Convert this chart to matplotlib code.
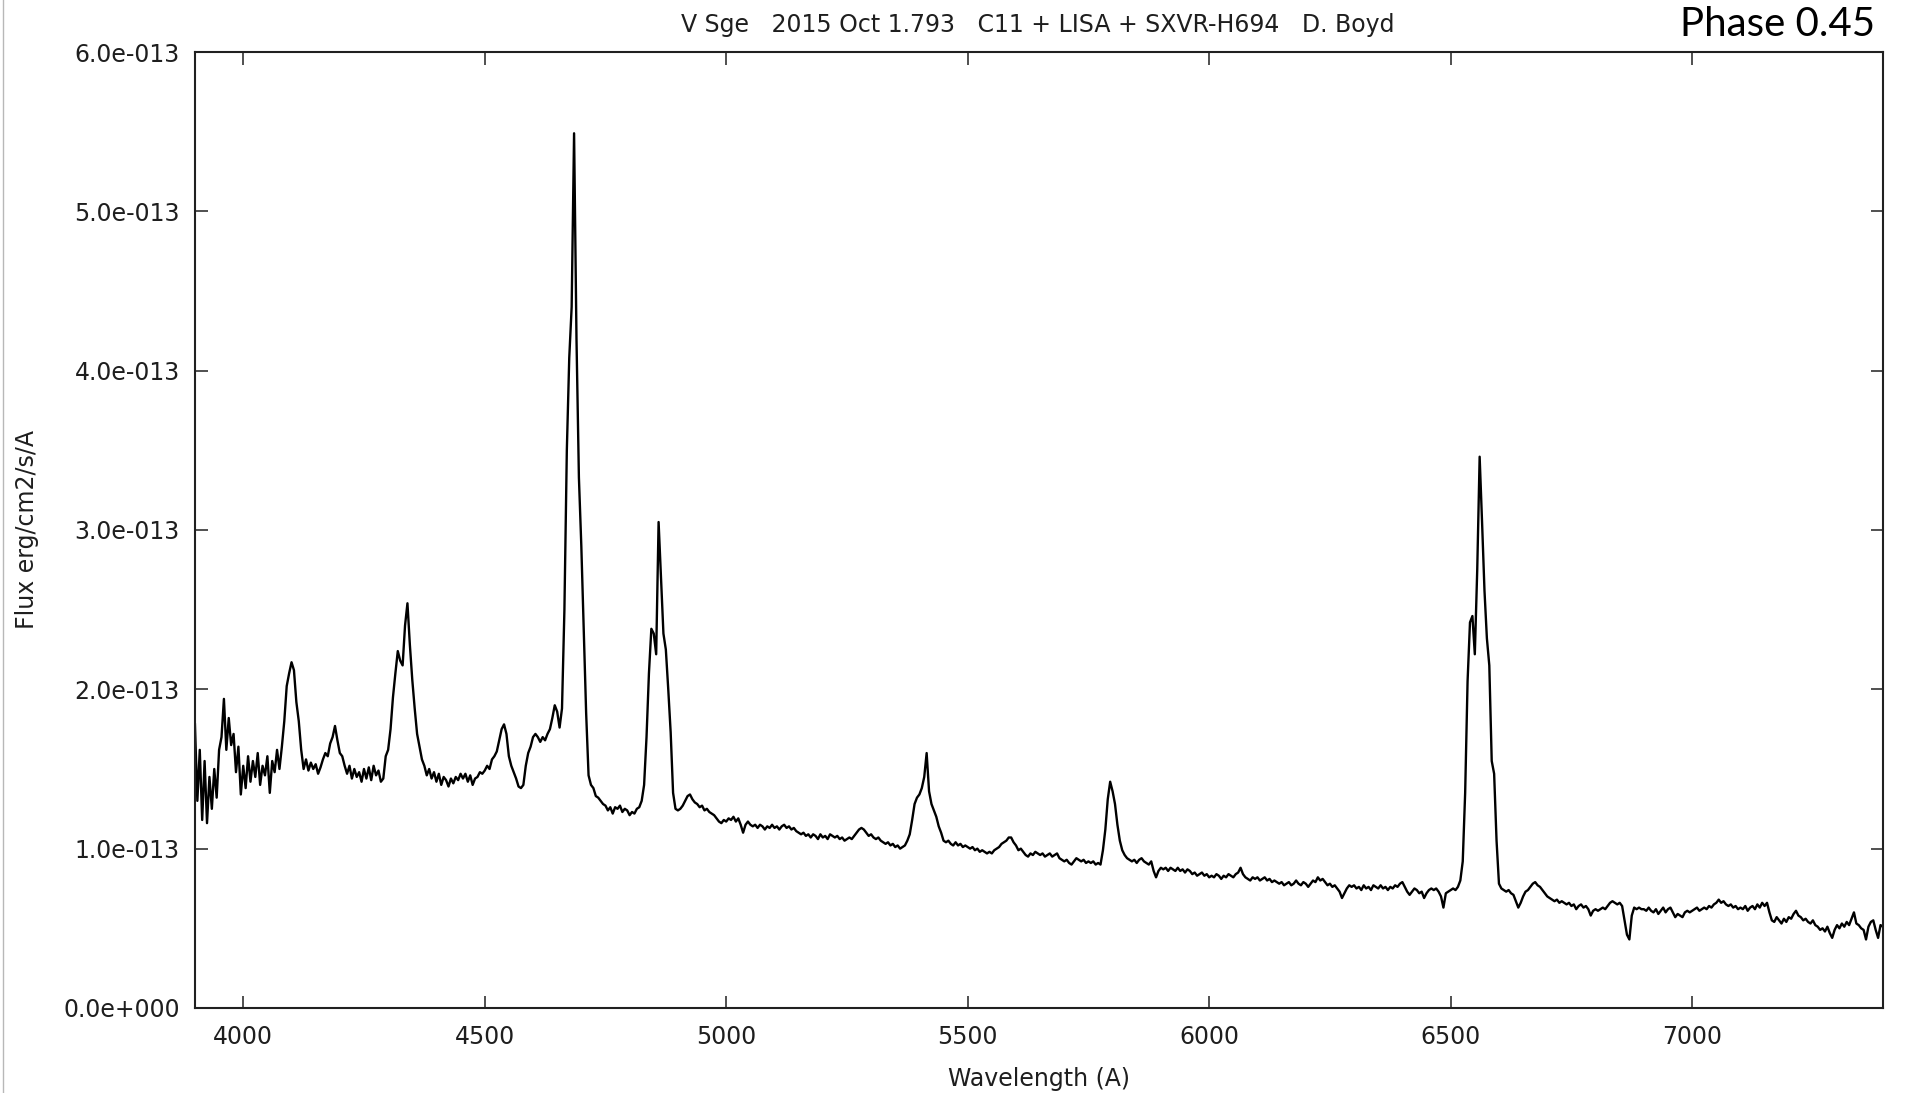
# V Sge spectrum, flux-calibrated, 2015 Oct 1.793

import matplotlib
matplotlib.use('Agg')
import matplotlib.pyplot as plt
from matplotlib.lines import Line2D
from matplotlib.ticker import FuncFormatter, MultipleLocator
import numpy as np

# wavelength sampling of the spectrum (Angstrom)
crval1 = 3900.0
cdelt1 = 5.0

# flux in units of 1e-13 erg/cm2/s/A, one row per 100 A
flux_rows = [
    # 3900
    [1.78, 1.30, 1.62, 1.18, 1.55, 1.16, 1.45, 1.25, 1.50, 1.32, 1.62, 1.70, 1.94, 1.62, 1.82, 1.65, 1.72, 1.48, 1.64, 1.34],
    # 4000
    [1.52, 1.38, 1.58, 1.42, 1.55, 1.45, 1.60, 1.40, 1.52, 1.46, 1.58, 1.35, 1.55, 1.48, 1.62, 1.50, 1.64, 1.80, 2.02, 2.10],
    # 4100
    [2.17, 2.12, 1.92, 1.80, 1.62, 1.50, 1.56, 1.49, 1.54, 1.50, 1.53, 1.47, 1.51, 1.56, 1.60, 1.58, 1.66, 1.70, 1.77, 1.68],
    # 4200
    [1.60, 1.58, 1.52, 1.47, 1.52, 1.44, 1.50, 1.45, 1.48, 1.42, 1.50, 1.44, 1.51, 1.43, 1.52, 1.46, 1.49, 1.42, 1.44, 1.58],
    # 4300
    [1.62, 1.75, 1.95, 2.10, 2.24, 2.18, 2.15, 2.40, 2.54, 2.28, 2.06, 1.88, 1.72, 1.64, 1.56, 1.52, 1.46, 1.50, 1.44, 1.48],
    # 4400
    [1.42, 1.47, 1.40, 1.45, 1.43, 1.39, 1.44, 1.41, 1.45, 1.43, 1.47, 1.44, 1.47, 1.42, 1.46, 1.40, 1.44, 1.45, 1.48, 1.47],
    # 4500
    [1.49, 1.52, 1.50, 1.56, 1.58, 1.61, 1.68, 1.75, 1.78, 1.72, 1.58, 1.52, 1.48, 1.44, 1.39, 1.38, 1.40, 1.52, 1.60, 1.64],
    # 4600
    [1.70, 1.72, 1.70, 1.67, 1.70, 1.68, 1.72, 1.75, 1.82, 1.90, 1.86, 1.76, 1.88, 2.50, 3.50, 4.08, 4.40, 5.49, 4.20, 3.33],
    # 4700
    [2.90, 2.37, 1.85, 1.46, 1.40, 1.38, 1.33, 1.32, 1.30, 1.28, 1.27, 1.24, 1.26, 1.22, 1.26, 1.25, 1.27, 1.23, 1.25, 1.24],
    # 4800
    [1.21, 1.23, 1.22, 1.25, 1.26, 1.30, 1.40, 1.70, 2.10, 2.38, 2.35, 2.22, 3.05, 2.70, 2.35, 2.25, 2.00, 1.73, 1.35, 1.25],
    # 4900
    [1.24, 1.25, 1.27, 1.30, 1.33, 1.34, 1.31, 1.29, 1.28, 1.26, 1.27, 1.24, 1.25, 1.23, 1.22, 1.21, 1.19, 1.17, 1.16, 1.18],
    # 5000
    [1.17, 1.19, 1.18, 1.20, 1.17, 1.19, 1.15, 1.10, 1.15, 1.17, 1.15, 1.14, 1.15, 1.13, 1.15, 1.14, 1.12, 1.14, 1.13, 1.15],
    # 5100
    [1.13, 1.14, 1.12, 1.14, 1.15, 1.13, 1.14, 1.12, 1.13, 1.11, 1.10, 1.09, 1.10, 1.08, 1.09, 1.07, 1.09, 1.08, 1.06, 1.09],
    # 5200
    [1.07, 1.08, 1.06, 1.09, 1.08, 1.07, 1.08, 1.06, 1.07, 1.05, 1.06, 1.07, 1.06, 1.08, 1.10, 1.12, 1.13, 1.12, 1.10, 1.08],
    # 5300
    [1.09, 1.07, 1.06, 1.07, 1.05, 1.04, 1.03, 1.04, 1.02, 1.03, 1.01, 1.02, 1.00, 1.01, 1.02, 1.05, 1.09, 1.18, 1.28, 1.32],
    # 5400
    [1.34, 1.38, 1.45, 1.60, 1.36, 1.28, 1.24, 1.20, 1.14, 1.10, 1.05, 1.04, 1.05, 1.03, 1.02, 1.04, 1.02, 1.03, 1.01, 1.02],
    # 5500
    [1.01, 1.00, 1.01, 0.99, 1.00, 0.98, 0.99, 0.98, 0.97, 0.98, 0.97, 0.99, 1.00, 1.01, 1.03, 1.04, 1.05, 1.07, 1.07, 1.04],
    # 5600
    [1.02, 0.99, 1.00, 0.98, 0.96, 0.95, 0.97, 0.96, 0.98, 0.97, 0.96, 0.97, 0.95, 0.96, 0.97, 0.95, 0.96, 0.97, 0.94, 0.93],
    # 5700
    [0.92, 0.93, 0.91, 0.90, 0.92, 0.94, 0.93, 0.92, 0.93, 0.91, 0.92, 0.91, 0.92, 0.90, 0.91, 0.90, 0.99, 1.12, 1.31, 1.42],
    # 5800
    [1.36, 1.28, 1.15, 1.05, 0.99, 0.96, 0.94, 0.93, 0.92, 0.93, 0.91, 0.93, 0.94, 0.92, 0.91, 0.90, 0.92, 0.86, 0.82, 0.86],
    # 5900
    [0.88, 0.87, 0.88, 0.86, 0.88, 0.87, 0.86, 0.88, 0.86, 0.87, 0.85, 0.87, 0.86, 0.84, 0.85, 0.83, 0.84, 0.85, 0.83, 0.84],
    # 6000
    [0.82, 0.83, 0.82, 0.84, 0.83, 0.81, 0.83, 0.82, 0.84, 0.83, 0.82, 0.84, 0.85, 0.88, 0.84, 0.82, 0.81, 0.80, 0.82, 0.81],
    # 6100
    [0.82, 0.80, 0.81, 0.82, 0.80, 0.81, 0.79, 0.80, 0.79, 0.78, 0.79, 0.77, 0.78, 0.79, 0.77, 0.78, 0.80, 0.78, 0.77, 0.79],
    # 6200
    [0.78, 0.76, 0.78, 0.80, 0.79, 0.82, 0.80, 0.81, 0.79, 0.77, 0.78, 0.76, 0.77, 0.75, 0.73, 0.69, 0.72, 0.75, 0.77, 0.76],
    # 6300
    [0.77, 0.75, 0.76, 0.74, 0.77, 0.75, 0.76, 0.74, 0.77, 0.76, 0.75, 0.77, 0.75, 0.76, 0.74, 0.76, 0.75, 0.77, 0.76, 0.78],
    # 6400
    [0.79, 0.76, 0.73, 0.71, 0.73, 0.75, 0.74, 0.72, 0.73, 0.69, 0.72, 0.74, 0.75, 0.74, 0.75, 0.73, 0.70, 0.63, 0.72, 0.73],
    # 6500
    [0.74, 0.75, 0.74, 0.76, 0.80, 0.92, 1.35, 2.05, 2.42, 2.46, 2.22, 2.75, 3.46, 3.05, 2.62, 2.32, 2.15, 1.55, 1.47, 1.05],
    # 6600
    [0.78, 0.75, 0.74, 0.73, 0.74, 0.72, 0.71, 0.67, 0.63, 0.66, 0.70, 0.73, 0.74, 0.76, 0.78, 0.79, 0.77, 0.76, 0.74, 0.72],
    # 6700
    [0.70, 0.69, 0.68, 0.67, 0.68, 0.66, 0.67, 0.66, 0.65, 0.66, 0.64, 0.65, 0.62, 0.64, 0.65, 0.63, 0.64, 0.62, 0.58, 0.61],
    # 6800
    [0.62, 0.61, 0.62, 0.63, 0.62, 0.64, 0.66, 0.67, 0.66, 0.65, 0.66, 0.64, 0.55, 0.46, 0.43, 0.58, 0.63, 0.62, 0.63, 0.62],
    # 6900
    [0.62, 0.61, 0.63, 0.61, 0.60, 0.62, 0.59, 0.61, 0.63, 0.60, 0.62, 0.63, 0.60, 0.57, 0.59, 0.58, 0.57, 0.60, 0.61, 0.60],
    # 7000
    [0.61, 0.62, 0.63, 0.61, 0.62, 0.63, 0.62, 0.64, 0.63, 0.65, 0.66, 0.68, 0.66, 0.67, 0.65, 0.64, 0.65, 0.63, 0.64, 0.62],
    # 7100
    [0.63, 0.62, 0.64, 0.61, 0.63, 0.64, 0.62, 0.65, 0.63, 0.66, 0.64, 0.66, 0.60, 0.55, 0.54, 0.57, 0.55, 0.53, 0.56, 0.54],
    # 7200
    [0.57, 0.56, 0.59, 0.61, 0.58, 0.57, 0.55, 0.56, 0.54, 0.53, 0.55, 0.52, 0.51, 0.49, 0.50, 0.48, 0.51, 0.47, 0.44, 0.49],
    # 7300
    [0.52, 0.50, 0.53, 0.51, 0.54, 0.52, 0.56, 0.60, 0.53, 0.52, 0.50, 0.49, 0.43, 0.51, 0.54, 0.55, 0.49, 0.44, 0.52, 0.51],
]

title_text = 'V Sge   2015 Oct 1.793   C11 + LISA + SXVR-H694   D. Boyd'
phase_text = 'Phase 0.45'

flux = np.concatenate([np.array(r) for r in flux_rows]) * 1e-13
wave = crval1 + cdelt1 * np.arange(len(flux))

txt_color = '#1e1e1e'
fsize = 17
font = {'family': 'DejaVu Sans', 'size': fsize, 'color': txt_color}

fig = plt.figure(figsize=(19.32, 10.93), dpi=100)
ax = fig.add_axes([0.1009, 0.0778, 0.8737, 0.8746])

ax.plot(wave, flux, color='black', linewidth=1.7)

ax.set_xlim(wave[0], wave[-1])
ax.set_ylim(0, 6e-13)
ax.xaxis.set_major_locator(MultipleLocator(500))
ax.yaxis.set_major_locator(MultipleLocator(1e-13))


def sci_fmt(v, pos):
    # mantissa with three-digit exponent, e.g. 6.0e-013
    if v == 0:
        return '0.0e+000'
    e = int(np.floor(np.log10(abs(v)) + 1e-9))
    m = v / 10 ** e
    sign = '-' if e < 0 else '+'
    return f'{m:.1f}e{sign}{abs(e):03d}'


ax.yaxis.set_major_formatter(FuncFormatter(sci_fmt))

ax.tick_params(direction='in', length=9, width=1.1, top=True, right=True,
               labelsize=fsize, labelcolor=txt_color, color='#202020')
ax.tick_params(axis='x', pad=12)
ax.tick_params(axis='y', pad=11)
for s in ax.spines.values():
    s.set_linewidth(1.5)
    s.set_color('#202020')

ax.set_xlabel('Wavelength (A)', fontdict=font, va='center')
ax.set_ylabel('Flux erg/cm2/s/A', fontdict=font, va='center')
ax.xaxis.set_label_coords(0.5, -0.0743)
ax.yaxis.set_label_coords(-0.0995, 0.5)

fig.text(0.5372, 1 - 25 / 1093, title_text, ha='center', va='center',
         fontdict=font)
fig.text(0.9705, 0.978, phase_text, ha='right', va='center',
         family=['Lato', 'DejaVu Sans'], fontsize=29, color='black')

# thin grey frame line on the left edge
fig.add_artist(Line2D([0.0018, 0.0018], [0, 1], transform=fig.transFigure,
                      color='#b8b8b8', linewidth=1))

fig.savefig('out.png', dpi=100)
